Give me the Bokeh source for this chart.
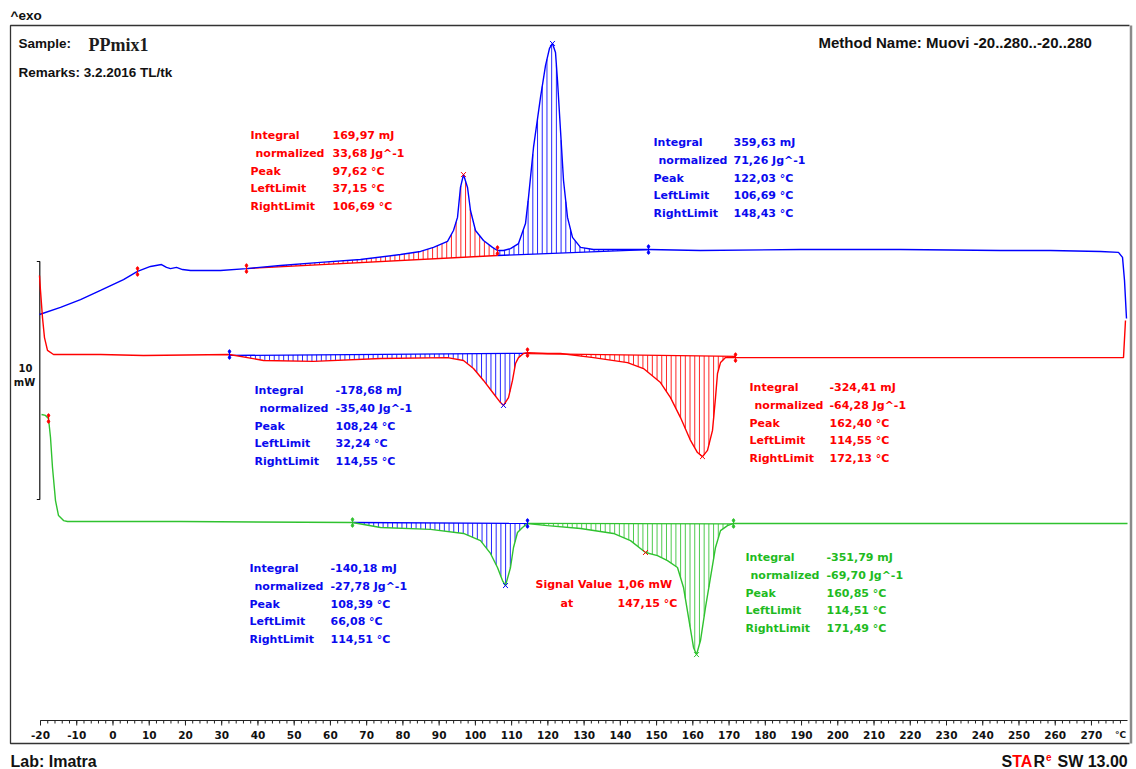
import numpy as np
from bokeh.plotting import figure
from bokeh.models import Range1d
from bokeh.core.properties import value
from bokeh.embed import file_html
from bokeh.resources import INLINE

# ---------------- data ----------------
# Upper curve (blue): temperature [°C] and heat flow [mW, relative to own baseline]
blue_T = [-20.28, -14.48, -8.96, -3.44, 2.90, 6.77, 10.35, 13.39, 14.77, 15.87, 17.53, 19.18, 21.39,
          29.67, 36.84, 46.23, 57.26, 68.30, 79.34, 84.86, 88.44, 92.31, 93.96, 95.07, 95.89, 96.72,
          97.83, 98.65, 100.03, 102.24, 104.72, 106.10, 107.76, 109.69, 111.90, 113.83, 114.66, 116.04,
          117.97, 119.35, 120.45, 121.28, 122.11, 122.66, 123.49, 124.32, 125.42, 126.80, 129.01, 132.59,
          147.77, 162.12, 189.71, 217.31, 244.90, 258.70, 272.50, 277.46, 278.57, 279.12, 279.67]
blue_mW = [-2.69, -2.39, -2.06, -1.68, -1.22, -0.88, -0.67, -0.59, -0.71, -0.76, -0.71, -0.80, -0.84,
           -0.84, -0.76, -0.63, -0.50, -0.38, -0.17, -0.04, 0.13, 0.38, 0.84, 1.39, 2.65, 3.19,
           2.65, 1.68, 0.84, 0.42, 0.13, 0.00, 0.00, 0.08, 0.29, 1.13, 2.23, 4.33,
           6.43, 7.77, 8.49, 8.70, 8.32, 7.14, 5.04, 2.94, 1.39, 0.55, 0.13, 0.04,
           0.04, 0.00, 0.04, 0.04, 0.00, 0.00, -0.04, -0.08, -0.29, -1.26, -2.86]

# Middle curve (red)
red_T = [-20.28, -20.00, -19.45, -18.90, -18.07, -16.41, -3.44, 8.42, 32.15, 41.53, 55.33, 73.82,
         92.31, 96.72, 99.48, 102.24, 105.00, 106.93, 107.76, 109.14, 110.24, 111.07, 111.90, 113.28,
         114.38, 119.90, 123.49, 132.59, 141.98, 146.39, 151.08, 153.84, 156.60, 159.36, 161.29, 162.67,
         164.05, 165.43, 166.26, 166.81, 167.64, 169.02, 171.78, 189.71, 244.90, 278.84, 279.39]
red_mW = [3.32, 2.69, 1.55, 0.71, 0.17, 0.00, 0.00, -0.04, 0.00, -0.25, -0.29, -0.17,
          -0.13, -0.25, -0.59, -1.09, -1.64, -2.02, -2.14, -1.81, -1.09, -0.38, -0.13, 0.04,
          0.08, 0.04, 0.04, -0.13, -0.34, -0.59, -1.18, -1.81, -2.65, -3.61, -4.12, -4.29,
          -4.03, -3.19, -1.81, -0.80, -0.34, -0.13, -0.13, -0.13, -0.13, -0.13, 1.43]

# Lower curve (green)
green_T = [-19.72, -18.62, -17.79, -17.24, -16.69, -15.86, -15.03, -13.65, -12.55, 18.63, 66.09, 73.82,
           87.62, 96.72, 101.41, 104.17, 106.10, 107.48, 108.31, 109.69, 110.52, 111.62, 113.00, 114.38,
           119.90, 129.01, 138.11, 142.80, 146.94, 150.25, 153.01, 155.77, 157.43, 158.81, 160.19, 161.02,
           162.12, 163.50, 164.88, 166.26, 167.64, 169.57, 171.23, 189.71, 244.90, 279.95]
green_mW = [4.54, 4.50, 4.37, 3.57, 2.31, 0.92, 0.29, 0.08, 0.04, 0.04, 0.00, -0.21,
            -0.29, -0.46, -0.76, -1.30, -1.89, -2.44, -2.65, -1.89, -1.05, -0.42, -0.21, -0.04,
            -0.13, -0.25, -0.46, -0.76, -1.26, -1.39, -1.60, -1.89, -2.73, -3.99, -5.25, -5.55,
            -4.96, -3.57, -2.31, -1.05, -0.34, -0.13, -0.04, -0.04, -0.04, -0.04]

# integration ranges: (T start, T end, baseline mW start, baseline mW end)
blue_integrals = [(36.84, 106.10, -0.76, -0.21), (106.10, 147.77, -0.21, 0.04)]
red_integrals = [(32.15, 114.38, -0.04, 0.05), (114.38, 171.78, 0.04, -0.08)]
green_integrals = [(66.09, 114.38, 0.00, -0.04), (114.38, 171.23, -0.04, -0.06)]

# peak temperatures as drawn
blue_peaks = [96.72, 121.28]
red_peaks = [107.76, 162.67]
green_peaks = [108.31, 161.02]
signal_T = 146.94

tick_values = list(range(-20, 271, 10))
tick_labels = [str(v) for v in tick_values]

ann_labels = ["Integral", "normalized", "Peak", "LeftLimit", "RightLimit"]
ann_blue_1 = ["169,97 mJ", "33,68 Jg^-1", "97,62 °C", "37,15 °C", "106,69 °C"]
ann_blue_2 = ["359,63 mJ", "71,26 Jg^-1", "122,03 °C", "106,69 °C", "148,43 °C"]
ann_red_1 = ["-178,68 mJ", "-35,40 Jg^-1", "108,24 °C", "32,24 °C", "114,55 °C"]
ann_red_2 = ["-324,41 mJ", "-64,28 Jg^-1", "162,40 °C", "114,55 °C", "172,13 °C"]
ann_green_1 = ["-140,18 mJ", "-27,78 Jg^-1", "108,39 °C", "66,08 °C", "114,51 °C"]
ann_green_2 = ["-351,79 mJ", "-69,70 Jg^-1", "160,85 °C", "114,51 °C", "171,49 °C"]
signal_text = ["Signal Value", "1,06 mW", "at", "147,15 °C"]

# ---------------- layout helpers ----------------
W, H = 1136, 769
PX_PER_C = 3.624
PX_PER_MW = 23.8


def X(px):  # page pixel -> °C
    return (px - 40) / PX_PER_C - 20


def Y(py):  # page pixel -> mW
    return (H - py) / PX_PER_MW


BLUE = "#0000ff"
RED = "#ff0000"
GREEN = "#2fc22f"
GREEN_TXT = "#1fbb1f"
TXT_BLUE = "#0a0aee"

off_blue, off_red, off_green = Y(250), Y(354), Y(522)

p = figure(width=W, height=H, x_range=Range1d(X(0), X(W)), y_range=Range1d(Y(H), Y(0)),
           output_backend="svg", toolbar_location=None, x_axis_location=None, y_axis_location=None,
           min_border=0, outline_line_color=None)
p.grid.grid_line_color = None
p.background_fill_color = "white"


def txt(x, y, s, color, size="11px", font="DejaVu Sans", style="bold", align="left", baseline="middle"):
    p.text(x=[x], y=[y], text=[s], text_color=color, text_font=value(font), text_font_size=size,
           text_font_style=style, text_align=align, text_baseline=baseline)


# frame box
bx0, bx1, by0, by1 = X(10), X(1129), Y(743), Y(25)
p.line([bx1, bx0, bx0, bx1], [by1, by1, by0, by0], line_color="#333333", line_width=1.3)
p.line([X(1130.5), X(1130.5)], [by1, by0], line_color="#8a8a8a", line_width=2.5)

# header texts
txt(X(10), Y(15), "^exo", "#111111", size="13.5px", font="Liberation Sans")
txt(X(18), Y(43), "Sample:", "#111111", size="13.5px", font="Liberation Sans")
txt(X(88), Y(44), "PPmix1", "#1c1c1c", size="18px", font="Liberation Serif")
txt(X(18), Y(72), "Remarks: 3.2.2016 TL/tk", "#111111", size="13.5px", font="Liberation Sans")
txt(X(818), Y(42), "Method Name: Muovi -20..280..-20..280", "#111111", size="15px", font="Liberation Sans")

# footer
txt(X(10), Y(761), "Lab: Imatra", "#111111", size="16px", font="Liberation Sans")
fx = 1001
txt(X(fx), Y(761), "S", "#111111", size="16px", font="Liberation Sans")
txt(X(fx + 10.7), Y(761), "TA", RED, size="16px", font="Liberation Sans")
txt(X(fx + 32.0), Y(761), "R", "#111111", size="16px", font="Liberation Sans")
txt(X(fx + 44.5), Y(756), "e", RED, size="10px", font="Liberation Sans")
txt(X(fx + 56), Y(761), "SW 13.00", "#111111", size="16px", font="Liberation Sans")

# x axis (drawn inside frame)
axis_y = Y(720)
p.line([X(40), X(1127)], [axis_y, axis_y], line_color="#222222", line_width=1)
minor = np.arange(-20, 279, 2)
major = np.array(tick_values + [280])
major = major[major < 279]
p.segment(minor, axis_y, minor, axis_y - 3 / PX_PER_MW, line_color="#222222", line_width=1)
p.segment(major, axis_y, major, axis_y - 5 / PX_PER_MW, line_color="#222222", line_width=1)
p.text(x=tick_values, y=[Y(734)] * len(tick_values), text=tick_labels, text_color="#111111",
       text_font=value("DejaVu Sans"), text_font_size="10.5px", text_font_style="bold",
       text_align="center", text_baseline="middle")
txt(X(1120), Y(734), "°C", "#111111", size="9px", align="center")

# scale bar 10 mW
sb_x = X(39.3)
sb_bottom = Y(499)
scale_mW = 10
p.line([sb_x - 3 / PX_PER_C, sb_x, sb_x, sb_x - 3 / PX_PER_C],
       [sb_bottom, sb_bottom, sb_bottom + scale_mW, sb_bottom + scale_mW], line_color="#111111", line_width=1.2)
txt(X(25), Y(367), "10", "#111111", size="10px", align="center")
txt(X(24), Y(381.5), "mW", "#111111", size="10px", align="center")


def hatch(T, v, off, region, color, step=1.3):
    t0, t1, b0, b1 = region
    ts = np.arange(t0 + step / 2, t1, step)
    top = np.interp(ts, T, v) + off
    base = b0 + (b1 - b0) * (ts - t0) / (t1 - t0) + off
    p.segment(ts, base, ts, top, line_color=color, line_width=1, line_alpha=0.85)
    p.line([t0, t1], [b0 + off, b1 + off], line_color=color, line_width=1.3)


def limit_mark(T, v, off, t, color):
    yv = np.interp(t, T, v) + off
    h = 5 / PX_PER_MW
    p.segment([t], [yv - h], [t], [yv + h], line_color=color, line_width=1.2)
    p.scatter([t, t], [yv - h * 0.6, yv + h * 0.6], size=2.5, color=color)


def peak_mark(T, v, off, t, color, dy=0):
    yv = np.interp(t, T, v) + off + dy
    p.scatter([t], [yv], marker="x", size=7, line_color=color, line_width=1)


# hatching
hatch(blue_T, blue_mW, off_blue, blue_integrals[0], RED)
hatch(blue_T, blue_mW, off_blue, blue_integrals[1], BLUE)
hatch(red_T, red_mW, off_red, red_integrals[0], BLUE)
hatch(red_T, red_mW, off_red, red_integrals[1], RED)
hatch(green_T, green_mW, off_green, green_integrals[0], BLUE)
hatch(green_T, green_mW, off_green, green_integrals[1], GREEN)

# curves
p.line(blue_T, [v + off_blue for v in blue_mW], line_color=BLUE, line_width=1.4)
p.line(red_T, [v + off_red for v in red_mW], line_color=RED, line_width=1.4)
p.line(green_T, [v + off_green for v in green_mW], line_color=GREEN, line_width=1.4)

# limit markers
limit_mark(blue_T, blue_mW, off_blue, blue_integrals[0][0], RED)
limit_mark(blue_T, blue_mW, off_blue, blue_integrals[0][1], RED)
limit_mark(blue_T, blue_mW, off_blue, blue_integrals[1][1], BLUE)
limit_mark(blue_T, blue_mW, off_blue, 6.77, RED)
limit_mark(red_T, red_mW, off_red, red_integrals[0][0], BLUE)
limit_mark(red_T, red_mW, off_red, red_integrals[0][1], RED)
limit_mark(red_T, red_mW, off_red, red_integrals[1][1], RED)
limit_mark(green_T, green_mW, off_green, green_integrals[0][0], GREEN)
limit_mark(green_T, green_mW, off_green, green_integrals[0][1], BLUE)
limit_mark(green_T, green_mW, off_green, green_integrals[1][1], GREEN)
limit_mark(green_T, green_mW, off_green, -17.79, RED)

# peak markers
peak_mark(blue_T, blue_mW, off_blue, blue_peaks[0], RED)
peak_mark(blue_T, blue_mW, off_blue, blue_peaks[1], BLUE)
peak_mark(red_T, red_mW, off_red, red_peaks[0], BLUE)
peak_mark(red_T, red_mW, off_red, red_peaks[1], RED)
peak_mark(green_T, green_mW, off_green, green_peaks[0], BLUE)
peak_mark(green_T, green_mW, off_green, green_peaks[1], GREEN)
peak_mark(green_T, green_mW, off_green, signal_T, RED)


# annotation blocks
def block(lx, nx, vx, y0, values, color, step=17.75):
    for i, (lab, val) in enumerate(zip(ann_labels, values)):
        y = Y(y0 + i * step)
        txt(X(nx if i == 1 else lx), y, lab, color)
        txt(X(vx), y, val, color)


block(250, 255, 332, 135, ann_blue_1, RED)
block(653, 658, 733, 142, ann_blue_2, TXT_BLUE)
block(254, 259, 335, 390, ann_red_1, TXT_BLUE)
block(749, 754, 829, 387, ann_red_2, RED)
block(249, 254, 330, 568, ann_green_1, TXT_BLUE)
block(745, 750, 826, 557, ann_green_2, GREEN_TXT)

txt(X(535), Y(584), signal_text[0], RED)
txt(X(617), Y(584), signal_text[1], RED)
txt(X(560), Y(603), signal_text[2], RED)
txt(X(617), Y(603), signal_text[3], RED)

open("out.html", "w").write(file_html(p, INLINE))
